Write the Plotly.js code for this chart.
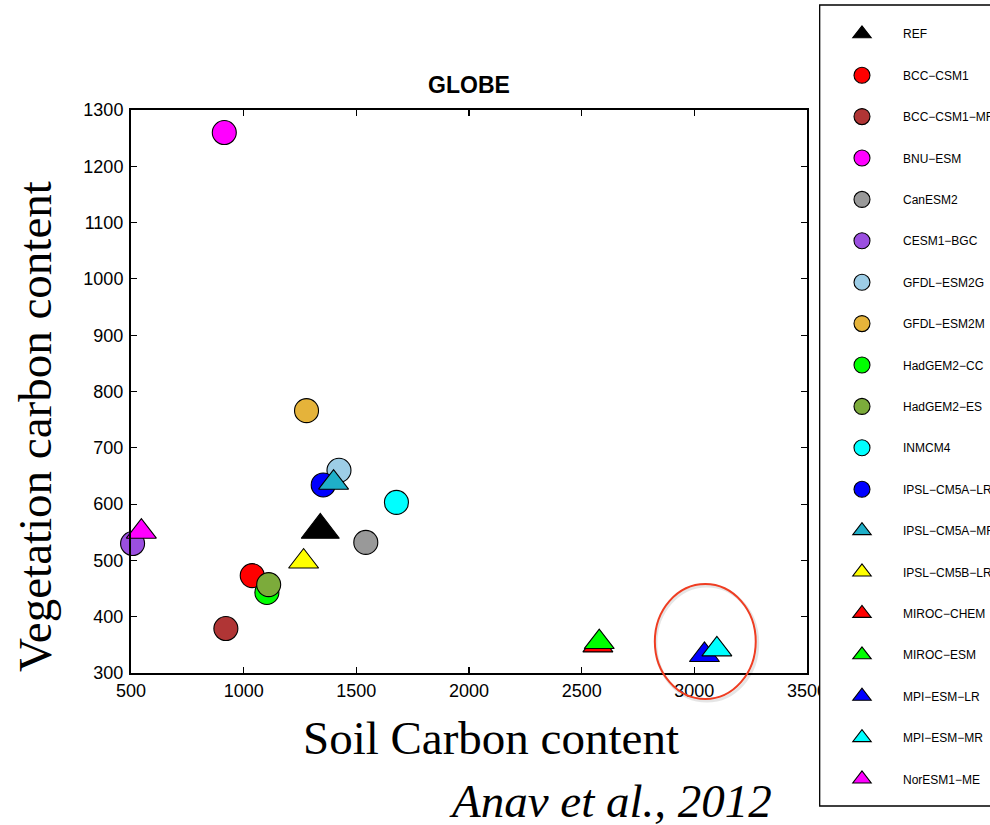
<!DOCTYPE html>
<html>
<head>
<meta charset="utf-8">
<script src="https://cdn.plot.ly/plotly-3.0.1.min.js"></script>
<style>
  html, body { margin: 0; padding: 0; background: #ffffff; }
  #chart { width: 990px; height: 825px; }
</style>
</head>
<body>
<div id="chart"></div>
<script>
// Global vegetation vs. soil carbon for the CMIP5 models and the reference estimate
const models = ['REF', 'BCC−CSM1', 'BCC−CSM1−MR', 'BNU−ESM', 'CanESM2', 'CESM1−BGC',
  'GFDL−ESM2G', 'GFDL−ESM2M', 'HadGEM2−CC', 'HadGEM2−ES', 'INMCM4', 'IPSL−CM5A−LR',
  'IPSL−CM5A−MR', 'IPSL−CM5B−LR', 'MIROC−CHEM', 'MIROC−ESM', 'MPI−ESM−LR', 'MPI−ESM−MR',
  'NorESM1−ME'];
const soilCarbon = [1340, 1038, 921, 914, 1542, 507, 1423, 1279, 1103, 1111, 1678, 1353,
  1399, 1266, 2572, 2578, 3045, 3100, 546];
const vegCarbon = [554, 473, 379, 1260, 532, 530, 660, 766, 443, 457, 603, 634,
  638, 498, 349, 355, 332, 342, 551];

const xTickValues = [500, 1000, 1500, 2000, 2500, 3000, 3500];
const yTickValues = [300, 400, 500, 600, 700, 800, 900, 1000, 1100, 1200, 1300];

// marker appearance per model
const markerColor = ['#000000', '#ff0000', '#b03535', '#ff00ff', '#999999', '#9b4fe0',
  '#9dcde6', '#e5b33a', '#00ff00', '#7cab3b', '#00ffff', '#0000ff',
  '#1fafc8', '#ffff00', '#ff0000', '#00ff00', '#0000ff', '#00ffff', '#ff00ff'];
const markerShape = ['triangle-up', 'circle', 'circle', 'circle', 'circle', 'circle',
  'circle', 'circle', 'circle', 'circle', 'circle', 'circle',
  'triangle-up', 'triangle-up', 'triangle-up', 'triangle-up', 'triangle-up', 'triangle-up', 'triangle-up'];

const traces = models.map((name, i) => ({
  type: 'scatter',
  mode: 'markers',
  name: name,
  x: [soilCarbon[i]],
  y: [vegCarbon[i]],
  legendgroup: 'model' + i,
  cliponaxis: false,
  hoverinfo: 'skip',
  marker: {
    symbol: markerShape[i],
    size: i === 0 ? 33 : (markerShape[i] === 'circle' ? 24 : 26),
    color: markerColor[i],
    line: { color: '#000000', width: 1.1 }
  }
}));

// plot frame in pixels
const W = 990, H = 825;
const L = 130.7, R = 807.3, T = 110, B = 673;
const pw = R - L, ph = B - T;
const px = v => (v - L) / pw;
const py = v => (B - v) / ph;

const axisCommon = {
  ticks: 'inside',
  ticklen: 6,
  tickwidth: 1.2,
  tickcolor: '#000000',
  showline: true,
  linewidth: 2,
  linecolor: '#000000',
  mirror: 'ticks',
  showgrid: false,
  zeroline: false,
  fixedrange: true,
  tickfont: { family: 'Liberation Sans, Arial, sans-serif', size: 18, color: '#000000' }
};

const serif = 'Liberation Serif, Times New Roman, serif';

const layout = {
  width: W,
  height: H,
  margin: { l: L, r: W - R, t: T, b: H - B, pad: 0, autoexpand: false },
  paper_bgcolor: '#ffffff',
  plot_bgcolor: '#ffffff',
  showlegend: true,
  hovermode: false,
  title: {
    text: '<b>GLOBE</b>',
    font: { family: 'Liberation Sans, Arial, sans-serif', size: 23, color: '#000000' },
    x: 0.5, xref: 'paper', xanchor: 'center',
    y: 1 - 85 / H, yref: 'container', yanchor: 'middle'
  },
  xaxis: Object.assign({}, axisCommon, { range: [500, 3500], tickmode: 'array', tickvals: xTickValues }),
  yaxis: Object.assign({}, axisCommon, { range: [300, 1300], tickmode: 'array', tickvals: yTickValues, ticklabelstandoff: 2 }),
  legend: {
    x: px(821.3), xref: 'paper', xanchor: 'left',
    y: py(6.3), yref: 'paper', yanchor: 'top',
    maxheight: 818,
    bgcolor: 'rgba(0,0,0,0)',
    borderwidth: 0,
    font: { family: 'Liberation Sans, Arial, sans-serif', size: 12, color: '#000000' },
    itemwidth: 72,
    tracegroupgap: 22.4,
    title: { text: ' ', font: { size: 10 } },
    itemclick: false,
    itemdoubleclick: false
  },
  annotations: [
    {
      text: 'Vegetation carbon content', textangle: -90,
      xref: 'paper', yref: 'paper', x: px(34), y: py(426.5),
      xanchor: 'center', yanchor: 'middle', showarrow: false,
      font: { family: serif, size: 47, color: '#000000' }
    },
    {
      text: 'Soil Carbon content',
      xref: 'paper', yref: 'paper', x: px(491), y: py(738),
      xanchor: 'center', yanchor: 'middle', showarrow: false,
      font: { family: serif, size: 47, color: '#000000' }
    },
    {
      text: '<i>Anav et al., 2012</i>',
      xref: 'paper', yref: 'paper', x: px(611), y: py(801),
      xanchor: 'center', yanchor: 'middle', showarrow: false,
      font: { family: serif, size: 47, color: '#000000' }
    }
  ],
  shapes: [
    // legend frame
    {
      type: 'rect', xref: 'paper', yref: 'paper', layer: 'above',
      x0: px(820), x1: px(1010), y0: py(806), y1: py(5),
      fillcolor: '#ffffff',
      line: { color: '#000000', width: 1.3 }
    },
    // highlight ring around the MPI models
    {
      type: 'circle', xref: 'paper', yref: 'paper', layer: 'above',
      x0: px(656), x1: px(758), y0: py(701), y1: py(586),
      line: { color: 'rgba(0,0,0,0.10)', width: 3 }
    },
    {
      type: 'circle', xref: 'paper', yref: 'paper', layer: 'above',
      x0: px(655), x1: px(756), y0: py(699), y1: py(584),
      line: { color: '#ef3d22', width: 2 }
    }
  ]
};

Plotly.newPlot('chart', traces, layout, { displayModeBar: false, staticPlot: true });
</script>
</body>
</html>
